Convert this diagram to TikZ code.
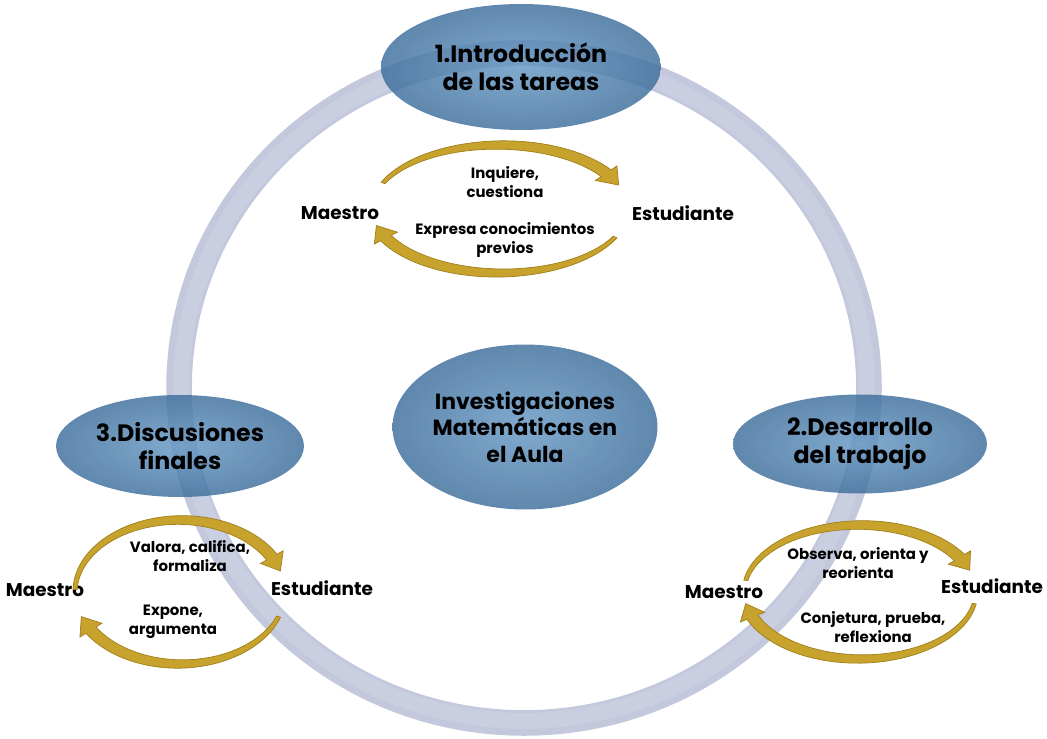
\documentclass[tikz,border=0pt]{standalone}
\usepackage{fontspec}
\setmainfont{Poppins}
\usetikzlibrary{shapes.geometric, positioning}

\definecolor{ringblue}{HTML}{C3C8DC}
\definecolor{ringlight}{HTML}{CACEE1}
\definecolor{phaselight}{HTML}{6597C4}
\definecolor{phasedark}{HTML}{3D6E9C}
\definecolor{goldmid}{HTML}{C7A32E}
\definecolor{goldedge}{HTML}{9F7F1A}

% flecha curva dorada: rx, ry, angulo inicial, angulo final (sentido horario)
\newcommand{\cyclearrow}[4]{%
  \pgfmathsetmacro{\neck}{#4+12}%
  \fill[goldarrow]
    plot[domain=#3:\neck, samples=40, variable=\t]
      ({(#1+2+4*(#3-\t)/(#3-\neck))*cos(\t)}, {(#2+2+4*(#3-\t)/(#3-\neck))*sin(\t)})
    -- ({(#1+13)*cos(\neck)}, {(#2+13)*sin(\neck)})
    -- ({#1*cos(#4)}, {#2*sin(#4)})
    -- ({(#1-13)*cos(\neck)}, {(#2-13)*sin(\neck)})
    -- plot[domain=\neck:#3, samples=40, variable=\t]
      ({(#1-2-4*(#3-\t)/(#3-\neck))*cos(\t)}, {(#2-2-4*(#3-\t)/(#3-\neck))*sin(\t)})
    -- cycle;
}

\begin{document}
\begin{tikzpicture}[
    x = 0.02cm, y = 0.02cm,
    phase/.style = {
      ellipse, inner sep = 0pt, align = center,
      inner color = phaselight, outer color = phasedark,
      fill opacity = 0.82, text opacity = 1,
      font = \fontsize{13.5}{16}\selectfont\bfseries
    },
    core/.style = {phase, font = \fontsize{12.5}{15}\selectfont\bfseries},
    actor/.style = {font = \fontsize{10.5}{12}\selectfont\bfseries},
    action/.style = {align = center, font = \fontsize{8.5}{10.5}\selectfont\bfseries},
    goldarrow/.style = {fill = goldmid, draw = goldedge, line width = 0.4pt}
  ]
  \useasboundingbox (0,0) rectangle (1047,738);

  % ---- Anillo exterior ----
  \coordinate (ringc) at (524,350);
  \draw[ringblue, line width = 14.6pt] (ringc) ellipse [x radius = 6.9cm, y radius = 6.7cm];
  \draw[ringlight, line width = 9pt] (ringc) ellipse [x radius = 6.86cm, y radius = 6.66cm];

  % ---- Ciclo 1: introduccion ----
  \coordinate (tcyc) at (500,529);
  \node[actor]  (tmae)  at (340,525) {Maestro};
  \node[actor]  (test)  at (683,525) {Estudiante};
  \node[action] (tup)   at (505,556) {Inquiere,\\cuestiona};
  \node[action] (tdown) at (505,498) {Expresa conocimientos\\previos};
  \begin{scope}[shift = {(tcyc)}]
    \cyclearrow{128}{64}{156}{22}
    \cyclearrow{128}{64}{-26}{-165}
  \end{scope}

  % ---- Ciclo 2: desarrollo ----
  \coordinate (dcyc) at (860,146);
  \node[actor]  (dmae)  at (724,146) {Maestro};
  \node[actor]  (dest)  at (992,152) {Estudiante};
  \node[action] (dup)   at (858,175) {Observa, orienta y\\reorienta};
  \node[action] (ddown) at (873,111) {Conjetura, prueba,\\reflexiona};
  \begin{scope}[shift = {(dcyc)}]
    \cyclearrow{116}{67}{170}{19}
    \cyclearrow{116}{67}{-10}{-170}
  \end{scope}

  % ---- Ciclo 3: discusiones ----
  \coordinate (fcyc) at (180,146);
  \node[actor]  (fmae)  at (45,148)  {Maestro};
  \node[actor]  (fest)  at (322,150) {Estudiante};
  \node[action] (fup)   at (190,182) {Valora, califica,\\formaliza};
  \node[action] (fdown) at (173,116) {Expone,\\argumenta};
  \begin{scope}[shift = {(fcyc)}]
    \cyclearrow{105}{72}{178}{17}
    \cyclearrow{105}{72}{-20}{-160}
  \end{scope}

  % ---- Fases ----
  \node[phase, minimum width = 5.6cm, minimum height = 2.52cm] (intro) at (521,671) {1.Introducción\\de las tareas};
  \node[phase, minimum width = 5.08cm, minimum height = 1.98cm] (desa) at (860,294) {2.Desarrollo\\del trabajo};
  \node[phase, minimum width = 4.96cm, minimum height = 2.04cm] (disc) at (180,292) {3.Discusiones\\finales};
  \node[core, minimum width = 5.3cm, minimum height = 3.3cm] (inv) at (525,311) {Investigaciones\\Matemáticas en\\el Aula};

\end{tikzpicture}
\end{document}
